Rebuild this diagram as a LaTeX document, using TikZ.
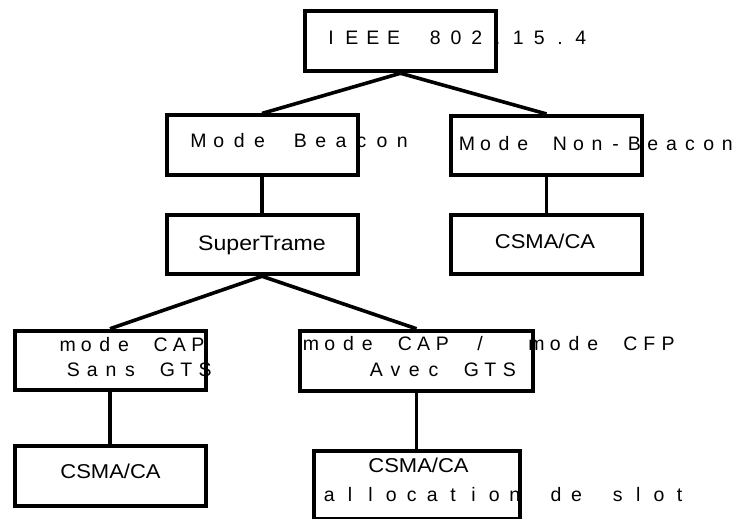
\documentclass[tikz,border=0pt]{standalone}
\usepackage{fontspec}
\setmainfont{Liberation Sans}
\newfontfamily\widefont{Liberation Sans}[FakeStretch=1.1]
\usepackage{tikz}
\usetikzlibrary{positioning}

% letters set at a fixed pitch (in pt)
\ExplSyntaxOn
\NewDocumentCommand \spaced { m m }
  { \str_map_inline:nn {#2} { \makebox[#1pt][c]{##1} } }
\ExplSyntaxOff

\begin{document}
\begin{tikzpicture}[x=1pt, y=-1pt,
    box/.style={rectangle, draw, line width=4pt, minimum width=191pt,
                minimum height=59.5pt, inner sep=0pt},
    link/.style={line width=3.6pt},
    lbl/.style={inner sep=0pt, anchor=base west, font=\fontsize{19.5}{22}\selectfont},
    txt/.style={inner sep=0pt, anchor=base, font=\widefont\fontsize{20}{24}\selectfont}]

    \fill[white] (0,0) rectangle (734,519);
    \useasboundingbox (0,0) rectangle (734,519);

    % Boxes
    \node[box, minimum width=191.5pt, minimum height=60.5pt] (ieee) at (400.5, 41) {};
    \node[box] (mb) at (262, 145.2) {};
    \node[box] (mnb) at (546.5, 145.7) {};
    \node[box] (st) at (262, 244.5) {};
    \node[box] (c1) at (546.5, 244.5) {};
    \node[box] (cs) at (110, 360.5) {};
    \node[box, minimum width=233pt, minimum height=60.5pt] (ca) at (416.5, 361) {};
    \node[box] (c2) at (110, 476) {};
    \node[box, minimum width=206pt, minimum height=67.5pt] (c3) at (417, 484.8) {};

    % Connections
    \draw[link] (ieee.south) -- (mb.north);
    \draw[link] (ieee.south) -- (mnb.north);
    \draw[link] (mb.south) -- (st.north);
    \draw[link] (mnb.south) -- (c1.north);
    \draw[link] (st.south) -- (cs.north);
    \draw[link] (st.south) -- (ca.north);
    \draw[link] (cs.south) -- (c2.north);
    \draw[link] (ca.south) -- (ca.south |- c3.north);

    % Labels
    \node[lbl] (ieeeL) at (320.6, 45) {\spaced{20.8}{IEEE 802.15.4}};
    \node[lbl] (mbL) at (188, 147.3) {\spaced{20.4}{Mode Beacon}};
    \node[lbl] (mnbL) at (457.4, 150.7) {\spaced{18.6}{Mode Non-Beacon}};
    \node[txt, font=\widefont\fontsize{21}{24}\selectfont] (stL) at (262, 250) {SuperTrame};
    \node[txt] (c1L) at (545, 248) {CSMA/CA};
    \node[lbl] (csL1) at (58.2, 351.5) {\spaced{18.6}{mode CAP}};
    \node[lbl] (csL2) at (63.9, 376.7) {\spaced{18.8}{Sans GTS}};
    \node[lbl] (caL1) at (301.3, 350) {\spaced{18.8}{mode CAP / }\spaced{18.8}{ mode CFP}};
    \node[lbl] (caL2) at (366.7, 376.7) {\spaced{19}{Avec GTS}};
    \node[txt] (c2L) at (110.5, 478.3) {CSMA/CA};
    \node[txt] (c3L1) at (418.5, 472.7) {CSMA/CA};
    \node[lbl] (c3L2) at (318.9, 501.7) {\spaced{20.6}{allocation de slot}};
\end{tikzpicture}
\end{document}
